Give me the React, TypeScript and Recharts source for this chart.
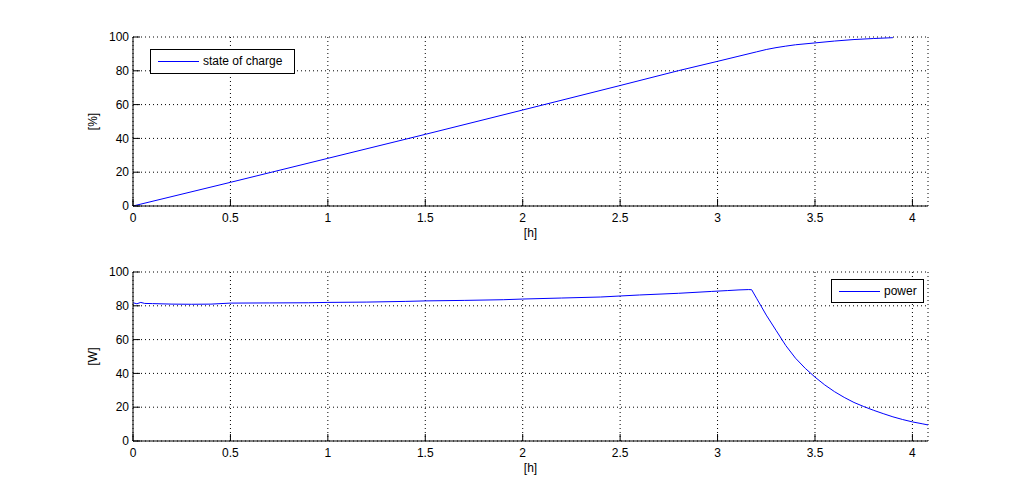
import React from 'react';
import { LineChart, Line, XAxis, YAxis, CartesianGrid, Legend } from 'recharts';

const xTicks = [0, 0.5, 1, 1.5, 2, 2.5, 3, 3.5, 4];
const yTicks = [0, 20, 40, 60, 80, 100];

const socHours = [0, 0.5, 1, 1.5, 2, 2.5, 2.8, 3, 3.1, 3.2, 3.25, 3.3, 3.35, 3.4, 3.5, 3.6, 3.7, 3.8, 3.9];
const socValues = [0, 14, 28.2, 42.4, 56.8, 71.3, 80.1, 85.6, 88.4, 91.2, 92.6, 93.7, 94.6, 95.4, 96.5, 97.6, 98.5, 99.1, 99.6];

const powerHours = [0, 0.02, 0.04, 0.06, 0.1, 0.2, 0.3, 0.4, 0.5, 0.7, 0.9, 1.0, 1.2, 1.4, 1.5, 1.7, 1.9, 2.0, 2.2, 2.4, 2.5, 2.6, 2.8, 2.97, 3.05, 3.11, 3.16, 3.175, 3.2, 3.25, 3.3, 3.35, 3.4, 3.45, 3.5, 3.55, 3.6, 3.65, 3.7, 3.75, 3.8, 3.85, 3.9, 3.95, 4.0, 4.05, 4.08];
const powerValues = [81.8, 81.2, 82.0, 81.4, 81.3, 81.0, 80.9, 81.0, 81.6, 81.7, 81.8, 82.0, 82.2, 82.6, 82.9, 83.2, 83.6, 84.0, 84.6, 85.2, 85.8, 86.4, 87.4, 88.5, 89.0, 89.4, 89.6, 89.5, 84.5, 74.5, 65.5, 56.5, 49.0, 43.0, 37.8, 33.2, 29.2, 25.8, 22.8, 20.4, 18.2, 16.2, 14.3, 12.7, 11.3, 10.2, 9.5];

const socData = socHours.map((h, i) => ({ h, v: socValues[i] }));
const powerData = powerHours.map((h, i) => ({ h, v: powerValues[i] }));

const FONT = '"Liberation Sans", Arial, sans-serif';
const tickStyle = { fill: '#000', fontSize: 12, fontFamily: FONT };

const LegendBox = ({ text, width, height }: { text: string; width: number; height: number }) => {
  const inner = height - 2;
  const ly = Math.floor(inner / 2) + 0.5;
  return (
    <div
      style={{
        width,
        height,
        boxSizing: 'border-box',
        border: '1px solid #000',
        background: '#fff',
        position: 'relative',
        fontFamily: FONT,
        fontSize: 12,
        color: '#000',
      }}
    >
      <svg width={50} height={inner} style={{ position: 'absolute', left: 0, top: 0 }}>
        <line x1={7} x2={48} y1={ly} y2={ly} stroke="#0000ff" strokeWidth={1} />
      </svg>
      <span style={{ position: 'absolute', left: 52, top: 0, lineHeight: `${inner}px`, whiteSpace: 'nowrap' }}>{text}</span>
    </div>
  );
};

function Panel({
  data,
  top,
  height,
  marginTop,
  yLabel,
  legendText,
  legendLeft,
  legendTop,
  legendW,
  legendH,
}: {
  data: { h: number; v: number }[];
  top: number;
  height: number;
  marginTop: number;
  yLabel: string;
  legendText: string;
  legendLeft: number;
  legendTop: number;
  legendW: number;
  legendH: number;
}) {
  const plotH = 169;
  const xAxisH = 34;
  const bottom = height - marginTop - plotH - xAxisH;
  return (
    <div style={{ position: 'absolute', left: 0, top }}>
      <LineChart width={1025} height={height} data={data} margin={{ top: marginTop, right: 97, left: 0, bottom }}>
        <CartesianGrid stroke="#000" strokeDasharray="1 3" xAxisId="b" yAxisId="l" />
        <XAxis
          xAxisId="b"
          dataKey="h"
          type="number"
          domain={[0, 4.08]}
          ticks={xTicks}
          allowDataOverflow
          height={xAxisH}
          stroke="#000"
          tickSize={-7}
          tickMargin={14}
          tick={tickStyle}
          tickLine={{ stroke: '#000' }}
          axisLine={{ stroke: '#000' }}
          interval={0}
          label={{ value: '[h]', position: 'insideBottom', offset: 3, style: { fontFamily: FONT, fontSize: 12, fill: '#000' } }}
        />
        <XAxis
          xAxisId="t"
          orientation="top"
          dataKey="h"
          type="number"
          domain={[0, 4.08]}
          ticks={xTicks}
          allowDataOverflow
          height={0}
          tickSize={-7}
          tickFormatter={() => ''}
          tickLine={{ stroke: '#000' }}
          axisLine={{ stroke: '#000' }}
          interval={0}
        />
        <YAxis
          yAxisId="l"
          dataKey="v"
          type="number"
          domain={[0, 100]}
          ticks={yTicks}
          allowDataOverflow
          width={133}
          tickSize={-7}
          tickMargin={11}
          tick={tickStyle}
          tickLine={{ stroke: '#000' }}
          axisLine={{ stroke: '#000' }}
          interval={0}
          label={{ value: yLabel, angle: -90, position: 'insideLeft', offset: 93, style: { fontFamily: FONT, fontSize: 12, fill: '#000', textAnchor: 'middle' } }}
        />
        <YAxis
          yAxisId="r"
          orientation="right"
          dataKey="v"
          type="number"
          domain={[0, 100]}
          ticks={yTicks}
          allowDataOverflow
          width={0}
          tickSize={-7}
          tickFormatter={() => ''}
          tickLine={{ stroke: '#000' }}
          axisLine={{ stroke: '#000' }}
          interval={0}
        />
        <Line
          xAxisId="b"
          yAxisId="l"
          dataKey="v"
          type="linear"
          stroke="#0000ff"
          strokeWidth={1}
          dot={false}
          isAnimationActive={false}
        />
        <Legend
          layout="vertical"
          align="center"
          verticalAlign="middle"
          wrapperStyle={{ left: legendLeft, top: legendTop, width: legendW, height: legendH }}
          content={() => <LegendBox text={legendText} width={legendW} height={legendH} />}
        />
      </LineChart>
    </div>
  );
}

export default function App() {
  return (
    <div style={{ position: 'absolute', left: 0, top: 0, width: 1025, height: 496, background: '#fff', overflow: 'hidden' }}>
      <Panel
        data={socData}
        top={0}
        height={250}
        marginTop={37}
        yLabel="[%]"
        legendText="state of charge"
        legendLeft={150}
        legendTop={49}
        legendW={145}
        legendH={25}
      />
      <Panel
        data={powerData}
        top={250}
        height={246}
        marginTop={22}
        yLabel="[W]"
        legendText="power"
        legendLeft={831}
        legendTop={29}
        legendW={93}
        legendH={24}
      />
    </div>
  );
}
